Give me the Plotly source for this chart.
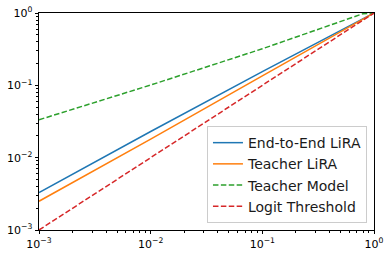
import plotly.graph_objects as go

fpr = [1e-3, 1e-2, 1e-1, 1.0]
e2e_lira = [0.0033, 0.023, 0.155, 1.0]
teacher_lira = [0.0025, 0.018, 0.135, 1.0]
teacher_model_x = [1e-3, 1e-2, 1e-1, 0.8, 1.0]
teacher_model = [0.0334, 0.101, 0.32, 0.98, 1.0]
logit_threshold = [1e-3, 1e-2, 1e-1, 1.0]

names = ["End-to-End LiRA", "Teacher LiRA", "Teacher Model", "Logit Threshold"]
colors = ["#1f77b4", "#ff7f0e", "#2ca02c", "#d62728"]

major = [1e-3, 1e-2, 1e-1, 1]
major_text = ["10<sup>−3</sup>", "10<sup>−2</sup>", "10<sup>−1</sup>", "10<sup>0</sup>"]
minor = [m * 10**e for e in (-3, -2, -1) for m in range(2, 10)]

dash = "5.5px,2.4px"
fig = go.Figure()
fig.add_trace(go.Scatter(x=fpr, y=e2e_lira, mode="lines", name=names[0],
                         line=dict(color=colors[0], width=1.5)))
fig.add_trace(go.Scatter(x=fpr, y=teacher_lira, mode="lines", name=names[1],
                         line=dict(color=colors[1], width=1.5)))
fig.add_trace(go.Scatter(x=teacher_model_x, y=teacher_model, mode="lines", name=names[2],
                         line=dict(color=colors[2], width=1.5, dash=dash)))
fig.add_trace(go.Scatter(x=fpr, y=logit_threshold, mode="lines", name=names[3],
                         line=dict(color=colors[3], width=1.5, dash=dash)))

axis_common = dict(
    type="log", range=[-3, 0], tickvals=major, ticktext=major_text,
    ticks="outside", ticklen=3.5, tickwidth=0.8, tickcolor="black",
    showline=True, linecolor="black", linewidth=0.8, mirror=True,
    showgrid=False, zeroline=False, automargin=False,
    tickfont=dict(family="DejaVu Sans", size=11, color="black"),
    minor=dict(tickvals=minor, ticks="outside", ticklen=2, tickwidth=0.6,
               tickcolor="black", showgrid=False),
)
fig.update_xaxes(**axis_common)
fig.update_yaxes(**axis_common)

fig.update_layout(
    width=390, height=258,
    margin=dict(l=39, r=16, t=13, b=28, autoexpand=False),
    plot_bgcolor="white", paper_bgcolor="white",
    font=dict(family="DejaVu Sans", color="black"),
    legend=dict(x=0.979, y=0.032, xanchor="right", yanchor="bottom",
                bgcolor="rgba(255,255,255,0.8)", bordercolor="#cccccc", borderwidth=1,
                font=dict(size=14, family="DejaVu Sans", color="#1a1a1a"),
                itemwidth=30, tracegroupgap=0),
)

fig.write_html("out.html", config={"displayModeBar": False},
               post_script="document.body.style.margin='0';document.body.style.overflow='hidden';")
